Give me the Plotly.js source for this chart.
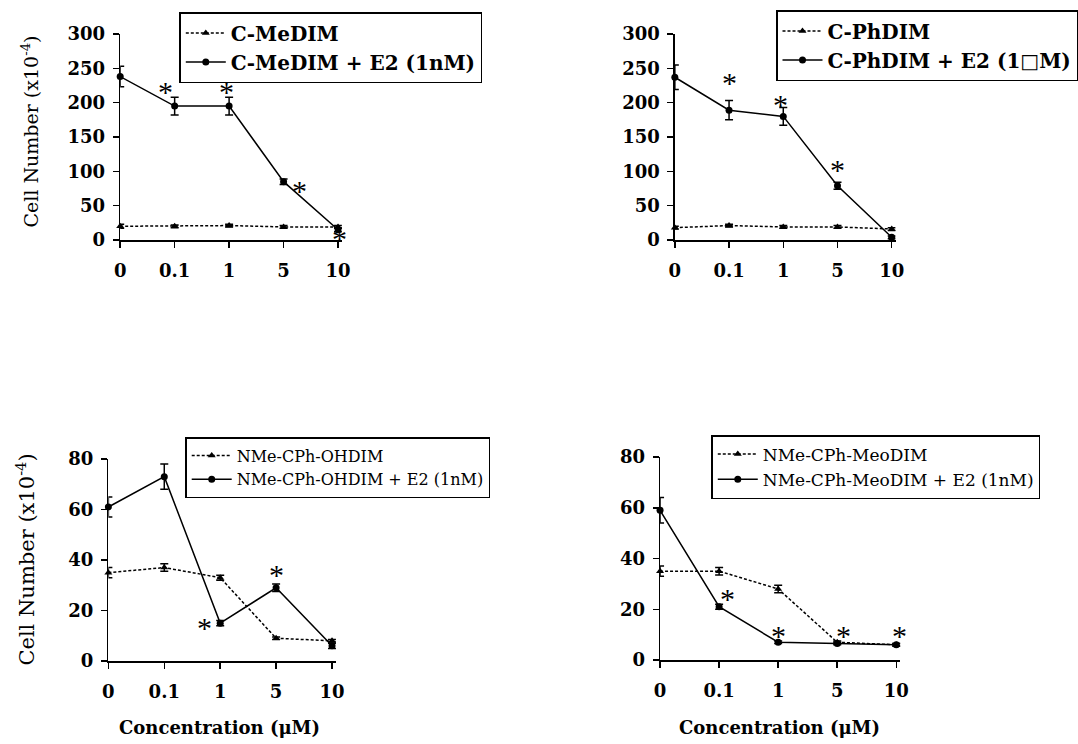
<!DOCTYPE html>
<html>
<head>
<meta charset="utf-8">
<script src="https://cdn.plot.ly/plotly-3.0.1.min.js"></script>
<style>html,body{margin:0;padding:0;background:#fff;}#chart{width:1078px;height:744px;}</style>
</head>
<body>
<div id="chart"></div>
<script>
// ---- data ----
const concLabels = ['0', '0.1', '1', '5', '10'];
const concIdx = [0, 1, 2, 3, 4];

// Panel A: C-MeDIM
const meDIM = [20, 20, 21, 19, 19];
const meDIMErr = [3, 2, 2, 2, 2];
const meDIME2 = [238, 195, 195, 85, 15];
const meDIME2Err = [15, 13, 13, 4, 3];
const sigAx = [0.83, 1.95, 3.3, 4.03];
const sigAy = [227, 227, 83, 12];

// Panel B: C-PhDIM
const phDIM = [18, 21, 19, 19, 16];
const phDIMErr = [2, 2, 2, 2, 2];
const phDIME2 = [237, 189, 180, 79, 4];
const phDIME2Err = [18, 14, 13, 5, 2];
const sigBx = [1.0, 1.95, 3.0, 4.18];
const sigBy = [239, 208, 113, 41];

// Panel C: NMe-CPh-OHDIM
const ohDIM = [35, 37, 33, 9, 8];
const ohDIMErr = [2, 1.5, 1, 0.5, 0.5];
const ohDIME2 = [61, 73, 15, 29, 6];
const ohDIME2Err = [4, 5, 1, 1.5, 1];
const sigCx = [1.72, 3.0, 4.25];
const sigCy = [16, 37, 15.5];

// Panel D: NMe-CPh-MeoDIM
const meoDIM = [35, 35, 28, 7, 6];
const meoDIMErr = [2, 1.5, 1.5, 0.5, 0.5];
const meoDIME2 = [59, 21, 7, 6.5, 6];
const meoDIME2Err = [5, 1, 0.5, 0.5, 0.5];
const sigDx = [1.15, 2.0, 3.1, 4.05];
const sigDy = [27, 12.6, 12.6, 12.6];

const namesA = ['C-MeDIM', 'C-MeDIM + E2 (1nM)'];
const namesB = ['C-PhDIM', 'C-PhDIM + E2 (1\u25A1M)'];
const namesC = ['NMe-CPh-OHDIM', 'NMe-CPh-OHDIM + E2 (1nM)'];
const namesD = ['NMe-CPh-MeoDIM', 'NMe-CPh-MeoDIM + E2 (1nM)'];

const yTitle = 'Cell Number (x10<sup>-4</sup>)';
const xTitle = 'Concentration (\u03BCM)';

// ---- styling ----
const SERIF = 'DejaVu Serif';
const BLACK = '#000';

function pair(xa, ya, vals, errs, valsE2, errsE2, names, legendId) {
  const base = {
    x: concIdx, xaxis: xa, yaxis: ya, type: 'scatter', mode: 'lines+markers',
    cliponaxis: false, legend: legendId
  };
  return [
    Object.assign({}, base, {
      y: vals, name: names[0],
      line: {color: BLACK, width: 1.5, dash: '3px,2px'},
      marker: {symbol: 'triangle-up', size: 7, color: BLACK},
      error_y: {type: 'data', array: errs, visible: true, color: BLACK, thickness: 1.5, width: 4}
    }),
    Object.assign({}, base, {
      y: valsE2, name: names[1],
      line: {color: BLACK, width: 1.5},
      marker: {symbol: 'circle', size: 7, color: BLACK},
      error_y: {type: 'data', array: errsE2, visible: true, color: BLACK, thickness: 1.5, width: 4}
    })
  ];
}

const data = [].concat(
  pair('x', 'y', meDIM, meDIMErr, meDIME2, meDIME2Err, namesA, 'legend'),
  pair('x2', 'y2', phDIM, phDIMErr, phDIME2, phDIME2Err, namesB, 'legend2'),
  pair('x3', 'y3', ohDIM, ohDIMErr, ohDIME2, ohDIME2Err, namesC, 'legend3'),
  pair('x4', 'y4', meoDIM, meoDIMErr, meoDIME2, meoDIME2Err, namesD, 'legend4')
);

function xAxis(domain, anchor) {
  return {
    domain: domain, anchor: anchor, range: [0, 4.07],
    tickvals: concIdx, ticktext: concLabels,
    showline: true, linecolor: BLACK, linewidth: 1.5,
    ticks: 'outside', ticklen: 6, tickwidth: 1.5, tickcolor: BLACK,
    showgrid: false, zeroline: false, ticklabelstandoff: 8,
    tickfont: {family: SERIF, size: 18, color: BLACK, weight: 'bold'},
    fixedrange: true
  };
}
function yAxis(domain, anchor, maxV, step) {
  const tv = [];
  for (let v = 0; v <= maxV; v += step) tv.push(v);
  return {
    domain: domain, anchor: anchor, range: [0, maxV],
    tickvals: tv,
    showline: true, linecolor: BLACK, linewidth: 1.5,
    ticks: 'outside', ticklen: 6, tickwidth: 1.5, tickcolor: BLACK,
    showgrid: false, zeroline: false, ticklabelstandoff: 4,
    tickfont: {family: SERIF, size: 18, color: BLACK, weight: 'bold'},
    fixedrange: true
  };
}

function legendBox(x, y, size, weight) {
  return {
    x: x, y: y, xanchor: 'left', yanchor: 'top',
    bgcolor: 'rgba(255,255,255,0)', bordercolor: BLACK, borderwidth: 1.5,
    font: {family: SERIF, size: size, color: BLACK, weight: weight},
    tracegroupgap: 0, itemwidth: 40
  };
}

function stars(xs, ys, xref, yref) {
  return xs.map((xv, i) => ({
    x: xv, y: ys[i], xref: xref, yref: yref, text: '*', showarrow: false,
    xanchor: 'center', yanchor: 'middle',
    font: {family: 'Liberation Serif', size: 30, color: BLACK}, yshift: -7
  }));
}

const W = 1078, H = 744;
const fx = (px) => px / W;
const fy = (py) => 1 - py / H;

function title(px, py, text, size, weight, angle) {
  return {x: fx(px), y: fy(py), xref: 'paper', yref: 'paper', text: text, textangle: angle,
          xanchor: 'center', yanchor: 'middle', showarrow: false,
          font: {family: SERIF, size: size, color: BLACK, weight: weight}};
}

const annotations = [].concat(
  stars(sigAx, sigAy, 'x', 'y'),
  stars(sigBx, sigBy, 'x2', 'y2'),
  stars(sigCx, sigCy, 'x3', 'y3'),
  stars(sigDx, sigDy, 'x4', 'y4'),
  [
    title(30, 132, yTitle, 19, 'normal', -90),
    title(26, 560, yTitle, 21, 'normal', -90),
    title(223, 727, xTitle, 18, 'bold', 0),
    title(791, 727, xTitle, 18, 'bold', 0)
  ]
);

const layout = {
  width: W, height: H,
  margin: {l: 0, r: 0, t: 0, b: 0},
  paper_bgcolor: '#fff', plot_bgcolor: 'rgba(0,0,0,0)',
  showlegend: true,
  xaxis: xAxis([fx(122), fx(347)], 'y'),
  yaxis: yAxis([fy(240), fy(34)], 'x', 300, 50),
  xaxis2: xAxis([fx(685), fx(909)], 'y2'),
  yaxis2: yAxis([fy(240), fy(34)], 'x2', 300, 50),
  xaxis3: xAxis([fx(110), fx(341)], 'y3'),
  yaxis3: yAxis([fy(661), fy(459)], 'x3', 80, 20),
  xaxis4: xAxis([fx(670), fx(914)], 'y4'),
  yaxis4: yAxis([fy(660), fy(457)], 'x4', 80, 20),
  legend: legendBox(fx(182), fy(12), 20, 'bold'),
  legend2: legendBox(fx(788), fy(10), 20, 'bold'),
  legend3: legendBox(fx(188), fy(437), 16, 'normal'),
  legend4: legendBox(fx(722), fy(435), 17, 'normal'),
  annotations: annotations
};

Plotly.newPlot('chart', data, layout, {staticPlot: true, displayModeBar: false});
</script>
</body>
</html>
